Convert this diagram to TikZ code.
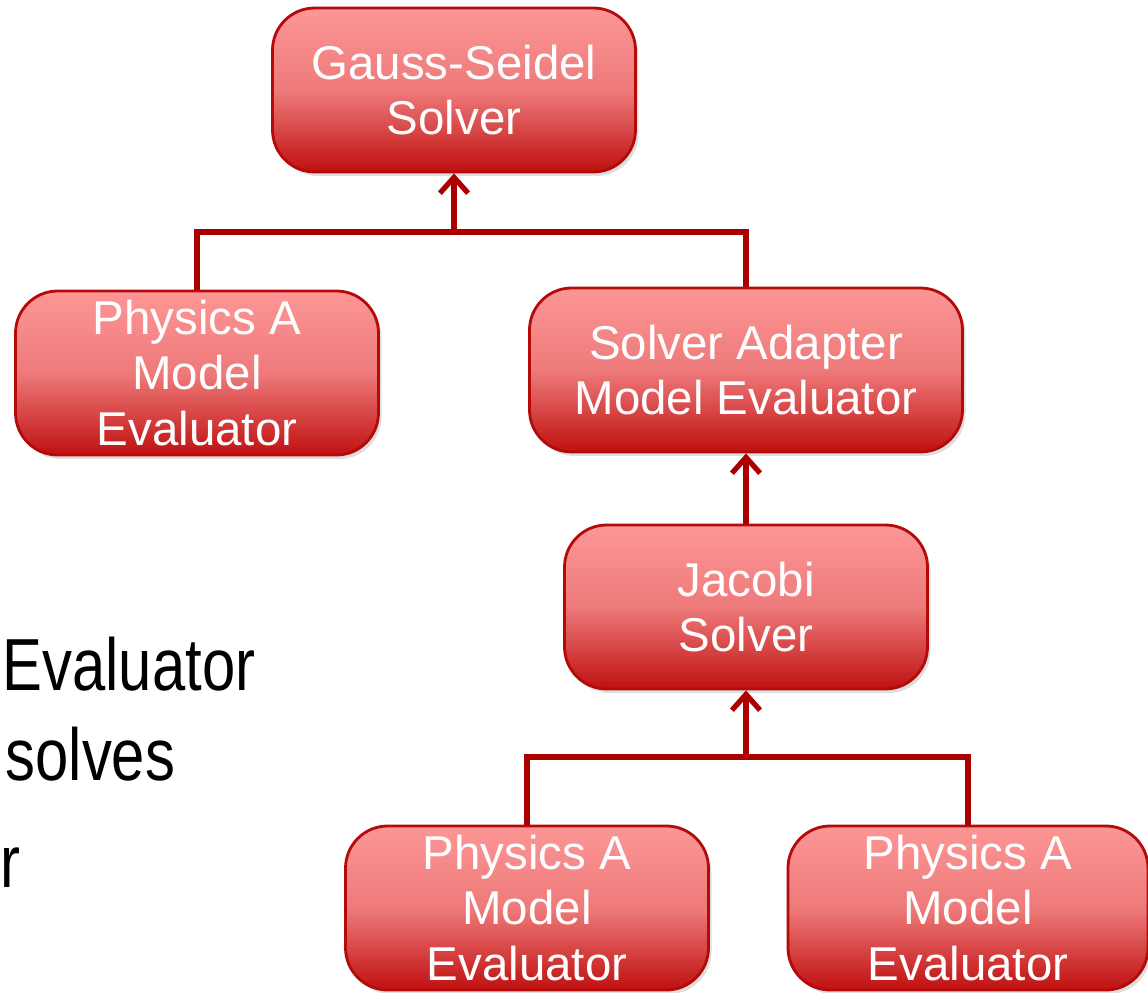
\documentclass[tikz,border=0pt]{standalone}
\usepackage{fontspec}
\setmainfont{Liberation Sans}
\newfontfamily\narrowsans{Liberation Sans}[FakeStretch=0.81]
\usetikzlibrary{arrows.meta, positioning, calc, shadows}

\definecolor{boxtop}{RGB}{253, 150, 150}
\definecolor{boxmid}{RGB}{238, 122, 122}
\definecolor{boxbottom}{RGB}{192, 16, 16}
\definecolor{boxline}{RGB}{180, 10, 10}
\definecolor{linkred}{RGB}{172, 0, 0}

\tikzset{
  solverbox/.style={draw=boxline, line width=0.8pt, rounded corners=12pt,
    top color=boxtop, bottom color=boxbottom, middle color=boxmid,
    text=white, align=center,
    inner sep=0pt, minimum width=3.63cm, minimum height=1.64cm,
    font=\fontsize{13.5}{15.9}\selectfont,
    drop shadow={opacity=0.25, shadow xshift=0.03cm, shadow yshift=-0.04cm}},
  link/.style={draw=linkred, line width=1.5pt},
  uparrow/.style={link, -{Straight Barb[length=4.5pt, width=8pt]}},
  slidetext/.style={anchor=base west, inner sep=0pt,
    font=\narrowsans\fontsize{21}{25}\selectfont}
}

\begin{document}
\begin{tikzpicture}
  \useasboundingbox (0,0) rectangle (11.48,9.92);

  % leftover slide text
  \node[slidetext] (txtone) at (0.02,3.02) {Evaluator};
  \node[slidetext] (txttwo) at (0.05,2.12) {solves};
  \node[slidetext] (txtthree) at (0.0,1.05) {r};

  % solver hierarchy
  \node[solverbox] (gs) at (4.54,9.02) {Gauss-Seidel\\Solver};
  \node[solverbox] (pa1) at (1.97,6.19) {Physics A\\Model\\Evaluator};
  \node[solverbox, minimum width=4.33cm] (sa) at (7.46,6.22) {Solver Adapter\\Model Evaluator};
  \node[solverbox] (jc) at (7.46,3.85) {Jacobi\\Solver};
  \node[solverbox] (pa2) at (5.27,0.84) {Physics A\\Model\\Evaluator};
  \node[solverbox, minimum width=3.6cm] (pa3) at (9.68,0.84) {Physics A\\Model\\Evaluator};

  \coordinate (gsjoin) at (4.54,7.6);
  \coordinate (jcjoin) at (7.46,2.35);

  \draw[link] (pa1.north) |- (gsjoin) -| (sa.north);
  \draw[uparrow] (gsjoin) -- (gs.south);
  \draw[uparrow] (jc.north) -- (sa.south);
  \draw[link] (pa2.north) |- (jcjoin) -| (pa3.north);
  \draw[uparrow] (jcjoin) -- (jc.south);
\end{tikzpicture}
\end{document}
